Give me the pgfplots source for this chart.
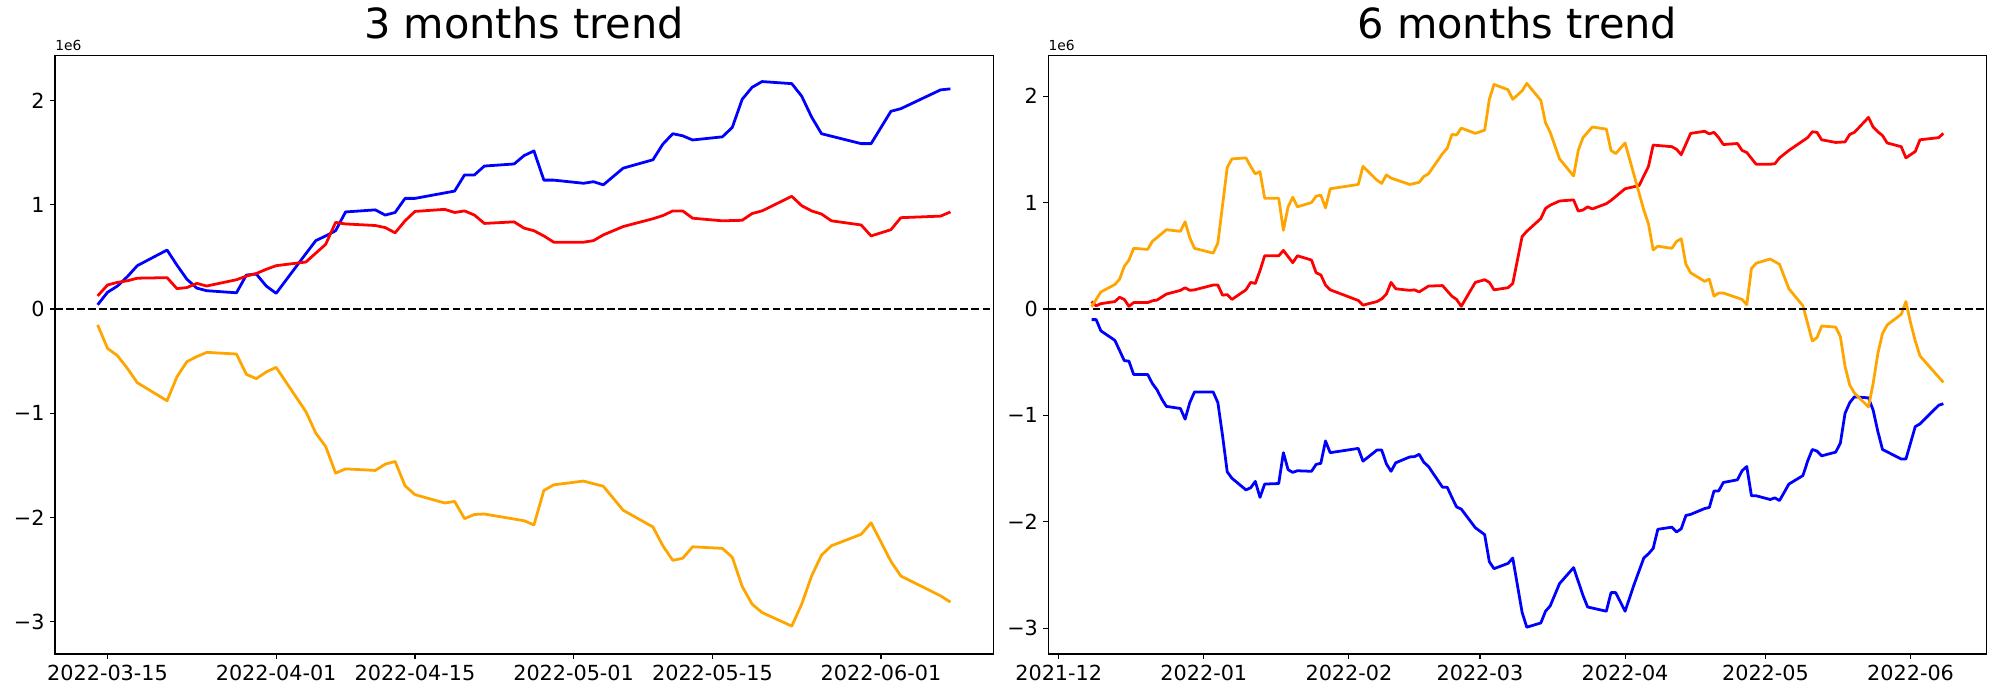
\documentclass[border=0pt]{standalone}
\usepackage{pgfplots}
\pgfplotsset{compat=1.18}
\usepackage{fontspec}
\setmainfont{DejaVu Sans}
\definecolor{mplorange}{HTML}{FFA500}
\pgfplotsset{
  trend/.style={
    scale only axis,
    width=675.4bp, height=431.1bp,
    anchor=south west,
    clip=false,
    axis line style={line width=0.8bp},
    tick align=outside,
    major tick length=3.5bp,
    every tick/.style={black, line width=0.8bp},
    xtick pos=bottom, ytick pos=left,
    tick label style={font=\fontsize{15}{18}\selectfont, inner sep=0pt},
    xticklabel style={anchor=north, yshift=-4.4bp},
    yticklabel style={anchor=east, xshift=-3.8bp},
    ytick={-3,-2,-1,0,1,2},
    yticklabels={−3,−2,−1,0,1,2},
    title style={font=\fontsize{30}{36}\selectfont, at={(0.5,1)}, anchor=base, yshift=6bp, inner sep=0pt},
  },
  ln/.style={line width=2bp, line join=round},
  zero/.style={black, line width=1.5bp, dash pattern=on 5.55bp off 2.4bp},
}
\begin{document}
\begin{tikzpicture}
\useasboundingbox (0,0) rectangle (1440bp,504bp);
% ---------------- 3 months ----------------
\begin{axis}[trend, at={(39.6bp,33.1bp)},
  title={3 months trend},
  xmin=-5.3, xmax=89.3, ymin=-3.308, ymax=2.432,
  xtick={0,17,31,47,61,78},
  xticklabels={2022-03-15,2022-04-01,2022-04-15,2022-05-01,2022-05-15,2022-06-01}]
\addplot[ln, blue] coordinates {
(-1,0.04) (0,0.16) (1,0.22) (2,0.31) (3,0.415) (6,0.565) (7,0.42) (8,0.285) (9,0.20) (10,0.175)
(13,0.155) (14,0.325) (15,0.335) (16,0.22) (17,0.15) (20,0.53) (21,0.655) (22,0.70) (23,0.75) (24,0.93)
(27,0.95) (28,0.90) (29,0.925) (30,1.06) (31,1.06) (35,1.13) (36,1.285) (37,1.285) (38,1.37)
(41,1.39) (42,1.47) (43,1.515) (44,1.235) (45,1.235) (48,1.205) (49,1.22) (50,1.19) (52,1.35)
(55,1.43) (56,1.58) (57,1.68) (58,1.66) (59,1.62) (62,1.65) (63,1.74) (64,2.01) (65,2.125) (66,2.18)
(69,2.16) (70,2.04) (71,1.84) (72,1.68) (76,1.585) (77,1.585) (79,1.895) (80,1.92) (84,2.10) (85,2.11)};
\addplot[ln, red] coordinates {
(-1,0.125) (0,0.23) (1,0.255) (2,0.27) (3,0.295) (6,0.30) (7,0.195) (8,0.205) (9,0.245) (10,0.22)
(13,0.28) (14,0.315) (15,0.34) (16,0.38) (17,0.415) (20,0.45) (21,0.535) (22,0.62) (23,0.83) (24,0.815)
(27,0.80) (28,0.78) (29,0.73) (30,0.845) (31,0.935) (34,0.955) (35,0.925) (36,0.94) (37,0.90) (38,0.82)
(41,0.835) (42,0.775) (43,0.75) (44,0.70) (45,0.64) (48,0.64) (49,0.655) (50,0.71) (52,0.79)
(55,0.865) (56,0.895) (57,0.94) (58,0.94) (59,0.87) (62,0.845) (64,0.85) (65,0.915) (66,0.94)
(69,1.08) (70,0.99) (71,0.94) (72,0.91) (73,0.845) (76,0.805) (77,0.70) (79,0.76) (80,0.875) (84,0.89) (85,0.93)};
\addplot[ln, mplorange] coordinates {
(-1,-0.153) (0,-0.378) (1,-0.448) (2,-0.57) (3,-0.707) (6,-0.88) (7,-0.65) (8,-0.505) (9,-0.457) (10,-0.416)
(13,-0.432) (14,-0.627) (15,-0.668) (16,-0.604) (17,-0.56) (20,-0.984) (21,-1.19) (22,-1.32) (23,-1.574) (24,-1.533)
(27,-1.548) (28,-1.488) (29,-1.462) (30,-1.695) (31,-1.78) (34,-1.86) (35,-1.845) (36,-2.01) (37,-1.97) (38,-1.966)
(42,-2.03) (43,-2.07) (44,-1.74) (45,-1.686) (48,-1.65) (50,-1.70) (52,-1.93)
(55,-2.09) (56,-2.27) (57,-2.41) (58,-2.39) (59,-2.28) (62,-2.295) (63,-2.38) (64,-2.66) (65,-2.83) (66,-2.91)
(69,-3.04) (70,-2.83) (71,-2.56) (72,-2.36) (73,-2.27) (76,-2.16) (77,-2.05) (79,-2.42) (80,-2.56) (84,-2.75) (85,-2.81)};
\addplot[zero] coordinates {(-5.3,0) (89.3,0)};
\node[anchor=base west, inner sep=0pt, font=\fontsize{10}{12}\selectfont] at (rel axis cs:0,1) [yshift=3.5bp] {1e6};
\end{axis}
% ---------------- 6 months ----------------
\begin{axis}[trend, at={(754.8bp,33.1bp)},
  title={6 months trend},
  xmin=-2.22, xmax=198.2, ymin=-3.242, ymax=2.384,
  xtick={0,31,62,90,121,151,182},
  xticklabels={2021-12,2022-01,2022-02,2022-03,2022-04,2022-05,2022-06}]
\addplot[ln, blue] coordinates {
(7,-0.10) (8,-0.10) (9,-0.205) (12,-0.295) (13,-0.39) (14,-0.485) (15,-0.49) (16,-0.615) (19,-0.615) (20,-0.70)
(21,-0.76) (22,-0.845) (23,-0.915) (26,-0.935) (27,-1.035) (28,-0.88) (29,-0.78) (33,-0.78) (34,-0.88) (35,-1.19)
(36,-1.53) (37,-1.59) (40,-1.70) (41,-1.68) (42,-1.62) (43,-1.77) (44,-1.645) (47,-1.64) (48,-1.35) (49,-1.51)
(50,-1.535) (51,-1.52) (54,-1.525) (55,-1.46) (56,-1.45) (57,-1.24) (58,-1.35) (64,-1.31) (65,-1.43) (68,-1.325)
(69,-1.325) (70,-1.455) (71,-1.525) (72,-1.445) (75,-1.39) (76,-1.387) (77,-1.365) (78,-1.44) (79,-1.48) (82,-1.675)
(83,-1.675) (84,-1.77) (85,-1.86) (86,-1.88) (89,-2.055) (91,-2.12) (92,-2.375) (93,-2.44) (96,-2.39) (97,-2.34)
(99,-2.85) (100,-2.99) (103,-2.95) (104,-2.84) (105,-2.79) (107,-2.58) (110,-2.43) (112,-2.69) (113,-2.80) (117,-2.84)
(118,-2.665) (119,-2.665) (121,-2.84) (123,-2.58) (125,-2.34) (126,-2.30) (127,-2.25) (128,-2.07) (131,-2.05) (132,-2.095)
(133,-2.065) (134,-1.94) (135,-1.93) (138,-1.875) (139,-1.865) (140,-1.71) (141,-1.71) (142,-1.63) (145,-1.605) (146,-1.52)
(147,-1.48) (148,-1.755) (149,-1.755) (152,-1.79) (153,-1.775) (154,-1.80) (156,-1.645) (159,-1.565) (160,-1.43) (161,-1.32)
(162,-1.335) (163,-1.38) (166,-1.345) (167,-1.26) (168,-0.98) (169,-0.88) (170,-0.825) (173,-0.835) (174,-0.95) (175,-1.15)
(176,-1.32) (180,-1.41) (181,-1.41) (183,-1.105) (184,-1.08) (188,-0.905) (189,-0.89)};
\addplot[ln, red] coordinates {
(7,0.07) (8,0.03) (9,0.05) (12,0.07) (13,0.11) (14,0.09) (15,0.025) (16,0.06) (19,0.06) (20,0.077)
(21,0.084) (23,0.14) (26,0.175) (27,0.20) (28,0.175) (29,0.18) (33,0.225) (34,0.225) (35,0.13) (36,0.135)
(37,0.09) (40,0.18) (41,0.25) (42,0.24) (43,0.36) (44,0.50) (47,0.50) (48,0.55) (50,0.435) (51,0.50)
(54,0.46) (55,0.34) (56,0.32) (57,0.225) (58,0.18) (64,0.08) (65,0.036) (68,0.07) (69,0.095) (70,0.14)
(71,0.25) (72,0.19) (75,0.175) (76,0.18) (77,0.16) (79,0.215) (82,0.22) (84,0.12) (85,0.09) (86,0.025)
(89,0.25) (91,0.275) (92,0.25) (93,0.18) (96,0.20) (97,0.24) (99,0.68) (100,0.73) (103,0.85) (104,0.945)
(105,0.975) (107,1.015) (110,1.025) (111,0.92) (112,0.93) (113,0.96) (114,0.94) (117,0.99) (118,1.02) (121,1.13)
(124,1.16) (126,1.34) (127,1.54) (131,1.525) (132,1.50) (133,1.45) (134,1.55) (135,1.65) (138,1.67) (139,1.645)
(140,1.66) (141,1.61) (142,1.545) (145,1.555) (146,1.49) (147,1.47) (149,1.36) (152,1.36) (153,1.365) (154,1.42)
(156,1.49) (159,1.58) (160,1.61) (161,1.665) (162,1.66) (163,1.59) (166,1.565) (168,1.57) (169,1.64) (170,1.66)
(173,1.80) (174,1.71) (175,1.665) (176,1.63) (177,1.56) (180,1.525) (181,1.42) (182,1.45) (183,1.48) (184,1.59)
(188,1.61) (189,1.65)};
\addplot[ln, mplorange] coordinates {
(7,0.02) (9,0.16) (12,0.23) (13,0.28) (14,0.40) (15,0.46) (16,0.57) (19,0.56) (20,0.635) (23,0.745)
(26,0.73) (27,0.82) (28,0.67) (29,0.57) (33,0.525) (34,0.62) (36,1.33) (37,1.41) (40,1.42) (41,1.34)
(42,1.27) (43,1.29) (44,1.04) (47,1.04) (48,0.74) (49,0.96) (50,1.05) (51,0.96) (54,1.00) (55,1.06)
(56,1.07) (57,0.95) (58,1.13) (64,1.17) (65,1.34) (68,1.21) (69,1.18) (70,1.26) (71,1.23) (75,1.17)
(77,1.19) (78,1.245) (79,1.27) (82,1.46) (83,1.51) (84,1.64) (85,1.635) (86,1.70) (89,1.65) (91,1.68)
(92,1.97) (93,2.11) (96,2.06) (97,1.97) (99,2.05) (100,2.12) (103,1.96) (104,1.75) (105,1.66) (107,1.41)
(110,1.25) (111,1.49) (112,1.61) (114,1.71) (117,1.69) (118,1.49) (119,1.46) (121,1.56) (125,0.93) (126,0.80)
(127,0.555) (128,0.59) (131,0.57) (132,0.635) (133,0.66) (134,0.42) (135,0.34) (138,0.26) (139,0.28) (140,0.12)
(141,0.15) (142,0.15) (146,0.09) (147,0.04) (148,0.38) (149,0.43) (152,0.47) (154,0.42) (156,0.19) (159,0.03)
(161,-0.30) (162,-0.27) (163,-0.16) (166,-0.17) (167,-0.26) (168,-0.54) (169,-0.715) (170,-0.79) (173,-0.92) (174,-0.70)
(175,-0.42) (176,-0.23) (177,-0.15) (180,-0.05) (181,0.07) (182,-0.13) (183,-0.30) (184,-0.44) (189,-0.69)};
\addplot[zero] coordinates {(-2.22,0) (198.2,0)};
\node[anchor=base west, inner sep=0pt, font=\fontsize{10}{12}\selectfont] at (rel axis cs:0,1) [yshift=3.5bp] {1e6};
\end{axis}
\end{tikzpicture}
\end{document}
